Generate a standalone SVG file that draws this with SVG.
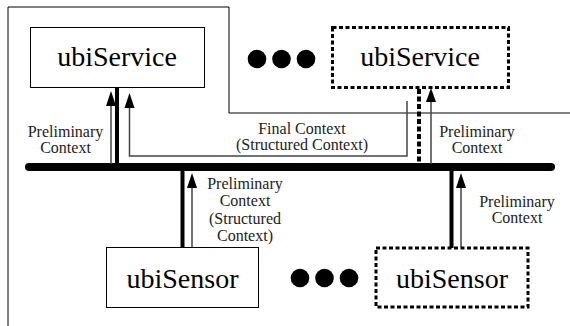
<svg xmlns="http://www.w3.org/2000/svg" width="570" height="326" viewBox="0 0 570 326">
<defs>
<style>
.box{fill:#fff;stroke:#000;stroke-width:1}
.dbox{fill:#fff;stroke:#000;stroke-width:3;stroke-dasharray:4 2.5}
.big{font-family:"Liberation Serif","Times New Roman",serif;font-size:28px;fill:#000;text-anchor:middle}
.lbl{font-family:"Liberation Serif","Times New Roman",serif;font-size:16px;fill:#222;text-anchor:middle}
.thick{stroke:#000;stroke-width:4;fill:none}
.dthick{stroke:#000;stroke-width:4;fill:none;stroke-dasharray:5 2.5}
.arr{stroke:#444;stroke-width:1.5;fill:none}
.dot{fill:#000}
</style>
<marker id="ah" viewBox="0 0 10 15" refX="5" refY="0" markerWidth="10" markerHeight="15" markerUnits="userSpaceOnUse" orient="auto-start-reverse">
<path d="M5,0 L10,15 L0,15 Z" fill="#000"/>
</marker>
</defs>
<rect width="570" height="326" fill="#fff"/>
<polyline points="8,326 8,7 229,7 229,113 570,113" fill="none" stroke="#000" stroke-width="1"/>
<g id="connectors">
<line x1="29" y1="167" x2="551" y2="167" stroke="#000" stroke-width="8" stroke-linecap="round"/>
<line class="thick" x1="117" y1="87" x2="117" y2="167"/>
<line class="arr" x1="111" y1="164" x2="111" y2="106"/>
<path d="M111,91 L116,106 L106,106 Z" fill="#000"/>
<polyline class="arr" points="407,101 407,156 129.5,156 129.5,108" stroke="#222"/>
<path d="M129.5,93 L134.5,108 L124.5,108 Z" fill="#000"/>
<line class="dthick" x1="419" y1="89" x2="419" y2="167"/>
<line class="arr" x1="431" y1="164" x2="431" y2="102"/>
<path d="M431,88 L436,102 L426,102 Z" fill="#000"/>
<line class="thick" x1="182.5" y1="167" x2="182.5" y2="248"/>
<line class="arr" x1="192" y1="247" x2="192" y2="188"/>
<path d="M192,173 L197,188 L187,188 Z" fill="#000"/>
<line class="thick" x1="451.5" y1="167" x2="451.5" y2="248"/>
<line class="arr" x1="461" y1="247" x2="461" y2="188"/>
<path d="M461,173 L466,188 L456,188 Z" fill="#000"/>
</g>
<g id="service1">
<rect class="box" x="30.5" y="27.5" width="174" height="60"/>
<text class="big" x="117" y="66">ubiService</text>
</g>
<g id="service2">
<rect class="dbox" x="332.5" y="27.5" width="176" height="60"/>
<text class="big" x="420" y="66">ubiService</text>
</g>
<g id="dots-top">
<circle class="dot" cx="257" cy="59" r="9.3"/>
<circle class="dot" cx="281.5" cy="59" r="9.3"/>
<circle class="dot" cx="306" cy="59" r="9.3"/>
</g>
<g id="sensor1">
<rect class="box" x="106.5" y="247.5" width="152" height="60"/>
<text class="big" x="182.5" y="288">ubiSensor</text>
</g>
<g id="sensor2">
<rect class="dbox" x="376" y="248" width="152" height="59"/>
<text class="big" x="452" y="288">ubiSensor</text>
</g>
<g id="dots-bottom">
<circle class="dot" cx="300" cy="278" r="9.3"/>
<circle class="dot" cx="324.5" cy="278" r="9.3"/>
<circle class="dot" cx="349" cy="278" r="9.3"/>
</g>
<g id="labels">
<text class="lbl" x="65.5" y="137">Preliminary</text>
<text class="lbl" x="65.5" y="153">Context</text>
<text class="lbl" x="302" y="134">Final Context</text>
<text class="lbl" x="302" y="150">(Structured Context)</text>
<text class="lbl" x="477" y="137">Preliminary</text>
<text class="lbl" x="477" y="153">Context</text>
<text class="lbl" x="245" y="189">Preliminary</text>
<text class="lbl" x="245" y="206">Context</text>
<text class="lbl" x="245" y="224">(Structured</text>
<text class="lbl" x="245" y="241">Context)</text>
<text class="lbl" x="517" y="207">Preliminary</text>
<text class="lbl" x="517" y="223">Context</text>
</g>
</svg>
